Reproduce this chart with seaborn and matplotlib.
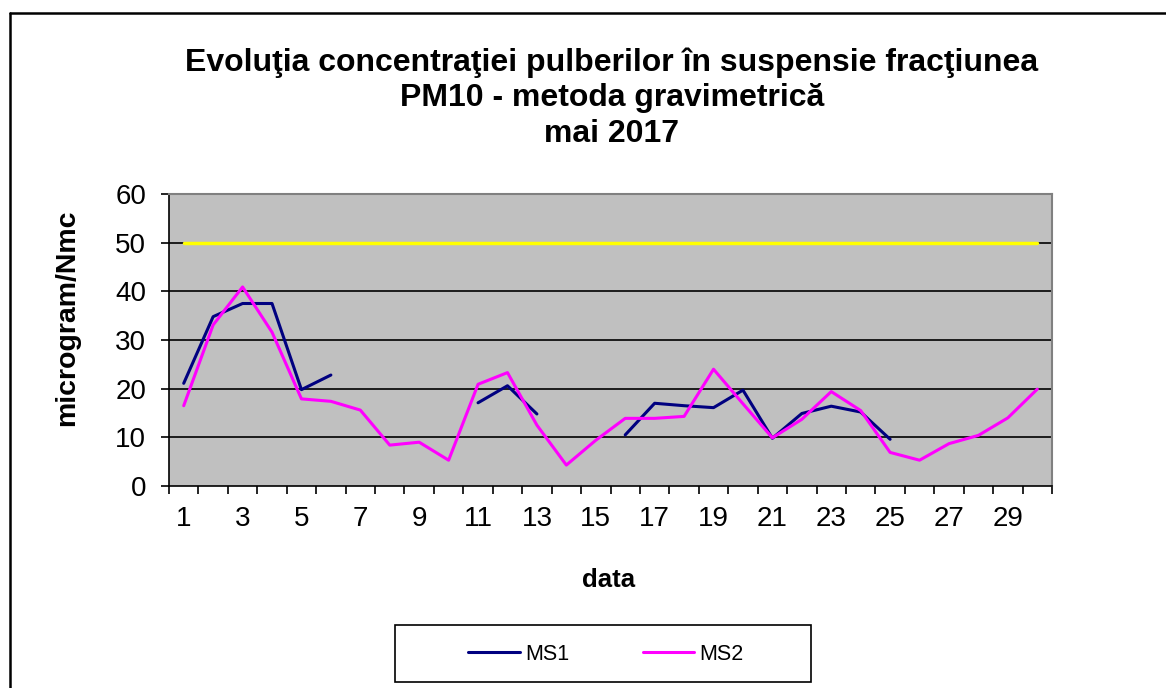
import numpy as np
import pandas as pd
import matplotlib
matplotlib.use("Agg")
import matplotlib.pyplot as plt
from matplotlib.lines import Line2D
from matplotlib.patches import Rectangle
import seaborn as sns

# ---- data ----
days = list(range(1, 31))
ms1 = [21.1, 34.8, 37.5, 37.5, 19.8, 22.8, np.nan, np.nan, np.nan, np.nan,
       17.1, 20.6, 14.8, np.nan, np.nan, 10.5, 17.0, 16.5, 16.1, 19.7,
       9.8, 14.9, 16.4, 15.2, 9.6, np.nan, np.nan, np.nan, np.nan, np.nan]
ms2 = [16.5, 33.1, 40.9, 31.6, 17.9, 17.4, 15.6, 8.4, 9.0, 5.3,
       20.9, 23.3, 12.5, 4.3, 9.4, 13.9, 13.9, 14.3, 24.0, 16.9,
       9.9, 13.7, 19.4, 15.5, 6.9, 5.3, 8.7, 10.4, 14.0, 19.9]
limit = [50] * 30
series_names = ["MS1", "MS2", "Limita"]
colors = {"MS1": "#000080", "MS2": "#FF00FF", "Limita": "#FFFF00"}
title = "Evoluţia concentraţiei pulberilor în suspensie fracţiunea\nPM10 - metoda gravimetrică\nmai 2017"
xlabel = "data"
ylabel = "microgram/Nmc"
xtick_labels = [str(d) for d in days if d % 2 == 1]

# ---- build long table with segment ids (gaps break lines) ----
rows = []
seg_id = 0
for name, vals in zip(series_names, [ms1, ms2, limit]):
    prev_nan = True
    for d, v in zip(days, vals):
        if v is None or (isinstance(v, float) and np.isnan(v)):
            prev_nan = True
            continue
        if prev_nan:
            seg_id += 1
        prev_nan = False
        rows.append({"day": d, "value": v, "series": name, "seg": seg_id})
df = pd.DataFrame(rows)

sns.set_theme(style="white")
plt.rcParams["font.family"] = ["Liberation Sans", "DejaVu Sans"]
plt.rcParams["text.color"] = "black"
plt.rcParams["axes.labelcolor"] = "black"
plt.rcParams["xtick.color"] = "black"
plt.rcParams["ytick.color"] = "black"
plt.rcParams["legend.labelcolor"] = "black"

W, H = 1166, 688
fig = plt.figure(figsize=(W / 100, H / 100), dpi=100)
ax = fig.add_axes([169 / W, 1 - 486 / H, (1052 - 169) / W, (486 - 194) / H])
ax.set_facecolor("#C0C0C0")

# grid lines
for yv in range(10, 60, 10):
    ax.axhline(yv, color="black", lw=1.2, zorder=1)

sns.lineplot(data=df[df.series == "Limita"], x="day", y="value", units="seg",
             estimator=None, color=colors["Limita"], lw=2.5, ax=ax, zorder=3,
             legend=False)
sns.lineplot(data=df[df.series == "MS1"], x="day", y="value", units="seg",
             estimator=None, color=colors["MS1"], lw=2.2, ax=ax, zorder=4,
             legend=False)
sns.lineplot(data=df[df.series == "MS2"], x="day", y="value", units="seg",
             estimator=None, color=colors["MS2"], lw=2.2, ax=ax, zorder=5,
             legend=False)

ax.set_xlim(0.5, 30.5)
ax.set_ylim(0, 60)

# x ticks: marks at category boundaries, labels at odd days
ax.set_xticks(np.arange(0.5, 31, 1.0))
ax.set_xticklabels([])
ax.set_xticks([d for d in days if d % 2 == 1], minor=True)
ax.set_xticklabels(xtick_labels, minor=True)
ax.tick_params(axis="x", which="major", direction="out", length=5.5, width=1.2,
               color="black", bottom=True)
ax.tick_params(axis="x", which="minor", length=0, pad=14.5, labelsize=20,
               labelcolor="black")
ax.set_yticks(range(0, 61, 10))
ax.tick_params(axis="y", which="major", direction="out", length=5.5, width=1.2,
               color="black", left=True, labelsize=20, labelcolor="black",
               pad=11)

for side in ["top", "right"]:
    ax.spines[side].set_color("#808080")
    ax.spines[side].set_linewidth(1.5)
for side in ["left", "bottom"]:
    ax.spines[side].set_color("black")
    ax.spines[side].set_linewidth(1.2)

ax.set_xlabel("")
ax.set_ylabel("")
fig.text(609 / W, 1 - 580 / H, xlabel, ha="center", va="center",
         fontsize=18.5, fontweight="bold", color="black")
fig.text(67 / W, 1 - 318 / H, ylabel, ha="center", va="center",
         fontsize=20.5, fontweight="bold", rotation=90, color="black")
fig.text(612 / W, 1 - 98 / H, title, ha="center", va="center",
         fontsize=23, fontweight="bold", linespacing=1.25, color="black")

# outer chart border (left and top visible)
fig.add_artist(Line2D([10 / W, 10 / W], [0, 1 - 13 / H], color="black",
                      lw=1.8, transform=fig.transFigure))
fig.add_artist(Line2D([10 / W, 1], [1 - 13 / H, 1 - 13 / H], color="black",
                      lw=1.8, transform=fig.transFigure))

# legend box
fig.add_artist(Rectangle((395 / W, 1 - 682 / H), (811 - 395) / W, (682 - 625) / H,
                         transform=fig.transFigure, fill=False,
                         edgecolor="black", lw=1.2))
handles = [Line2D([], [], color=colors["MS1"], lw=2.2),
           Line2D([], [], color=colors["MS2"], lw=2.2)]
fig.legend(handles, ["MS1", "MS2"], loc="center", ncol=2,
           bbox_to_anchor=(606 / W, 1 - 654 / H), frameon=False,
           fontsize=15.5, handlelength=2.4, handletextpad=0.25,
           columnspacing=3.4, labelcolor="black")

fig.savefig("out.png", dpi=100)
